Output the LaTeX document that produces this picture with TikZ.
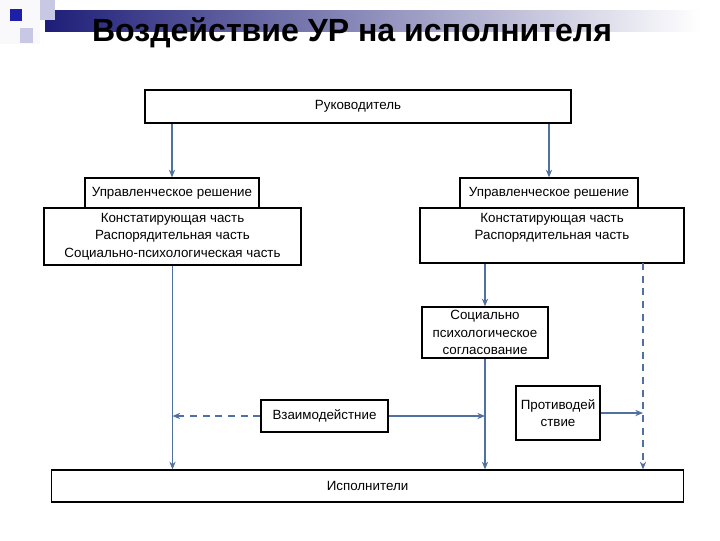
\documentclass[tikz,border=0pt]{standalone}
\usepackage{fontspec}
\setmainfont{Liberation Sans}
\usepackage{xcolor}
\usetikzlibrary{arrows.meta}
\definecolor{arrblue}{RGB}{80,112,160}
\definecolor{navy}{RGB}{30,30,120}
\definecolor{lav}{RGB}{200,200,228}
\definecolor{darkbl}{RGB}{30,30,170}

\begin{document}
\begin{tikzpicture}[x=0.025cm,y=-0.025cm,
  box/.style={draw=black,line width=0.9pt,fill=white,inner sep=1pt,align=center,font=\fontsize{9.5}{12.3}\selectfont},
  arr/.style={draw=arrblue,line width=0.75pt,-{Stealth[length=5.5pt,width=4.5pt]}},
  darr/.style={arr,dash pattern=on 5pt off 4pt}]
\useasboundingbox (0,0) rectangle (720,540);
% slide decoration
\shade[left color=navy,right color=white] (45,10) rectangle (700,31);
\fill[white!90!lav] (0,0) rectangle (40,44);
\fill[lav] (40,0) rectangle (55,20);
\fill[lav] (20,28) rectangle (33,43);
\fill[darkbl] (10,9) rectangle (22,21);
\node[font=\fontsize{22.8}{26}\bfseries\selectfont] (title) at (352,33) {Воздействие УР на исполнителя};

\node[box,minimum width=10.65cm,minimum height=0.82cm] (ruk) at (358,106.5) {Руководитель};
\node[box,minimum width=4.35cm,minimum height=0.75cm] (ur1) at (172,193) {Управленческое решение};
\node[box,minimum width=6.42cm,minimum height=1.42cm] (ch1) at (172.5,236.5) {Констатирующая часть\\Распорядительная часть\\Социально-психологическая часть};
\node[box,minimum width=4.45cm,minimum height=0.75cm] (ur2) at (549,193) {Управленческое решение};
\node[box,minimum width=6.6cm,minimum height=1.38cm,text depth=13pt] (ch2) at (552,235.5) {Констатирующая часть\\Распорядительная часть};
\node[box,minimum width=3.15cm,minimum height=1.28cm] (soc) at (485,332.5) {Социально\\психологическое\\согласование};
\node[box,minimum width=3.18cm,minimum height=0.8cm] (vz) at (324.5,416) {Взаимодейстние};
\node[box,minimum width=2.1cm,minimum height=1.35cm] (pr) at (558,413) {Противодей\\ствие};
\node[box,minimum width=15.78cm,minimum height=0.8cm] (isp) at (367.5,486) {Исполнители};
\coordinate (dl) at (643,263);

\draw[arr] (ruk.south -| ur1.north) -- (ur1.north);
\draw[arr] (ruk.south -| ur2.north) -- (ur2.north);
\draw[arr] (ch1.south) -- (ch1.south |- isp.north);
\draw[arr] (ch2.south -| soc.north) -- (soc.north);
\draw[arr] (soc.south) -- (soc.south |- isp.north);
\draw[darr] (dl) -- (dl |- isp.north);
\draw[darr] (vz.west) -- (vz.west -| ch1.south);
\draw[arr] (vz.east) -- (vz.east -| soc.south);
\draw[arr] (pr.east) -- (pr.east -| dl);
\end{tikzpicture}
\end{document}
